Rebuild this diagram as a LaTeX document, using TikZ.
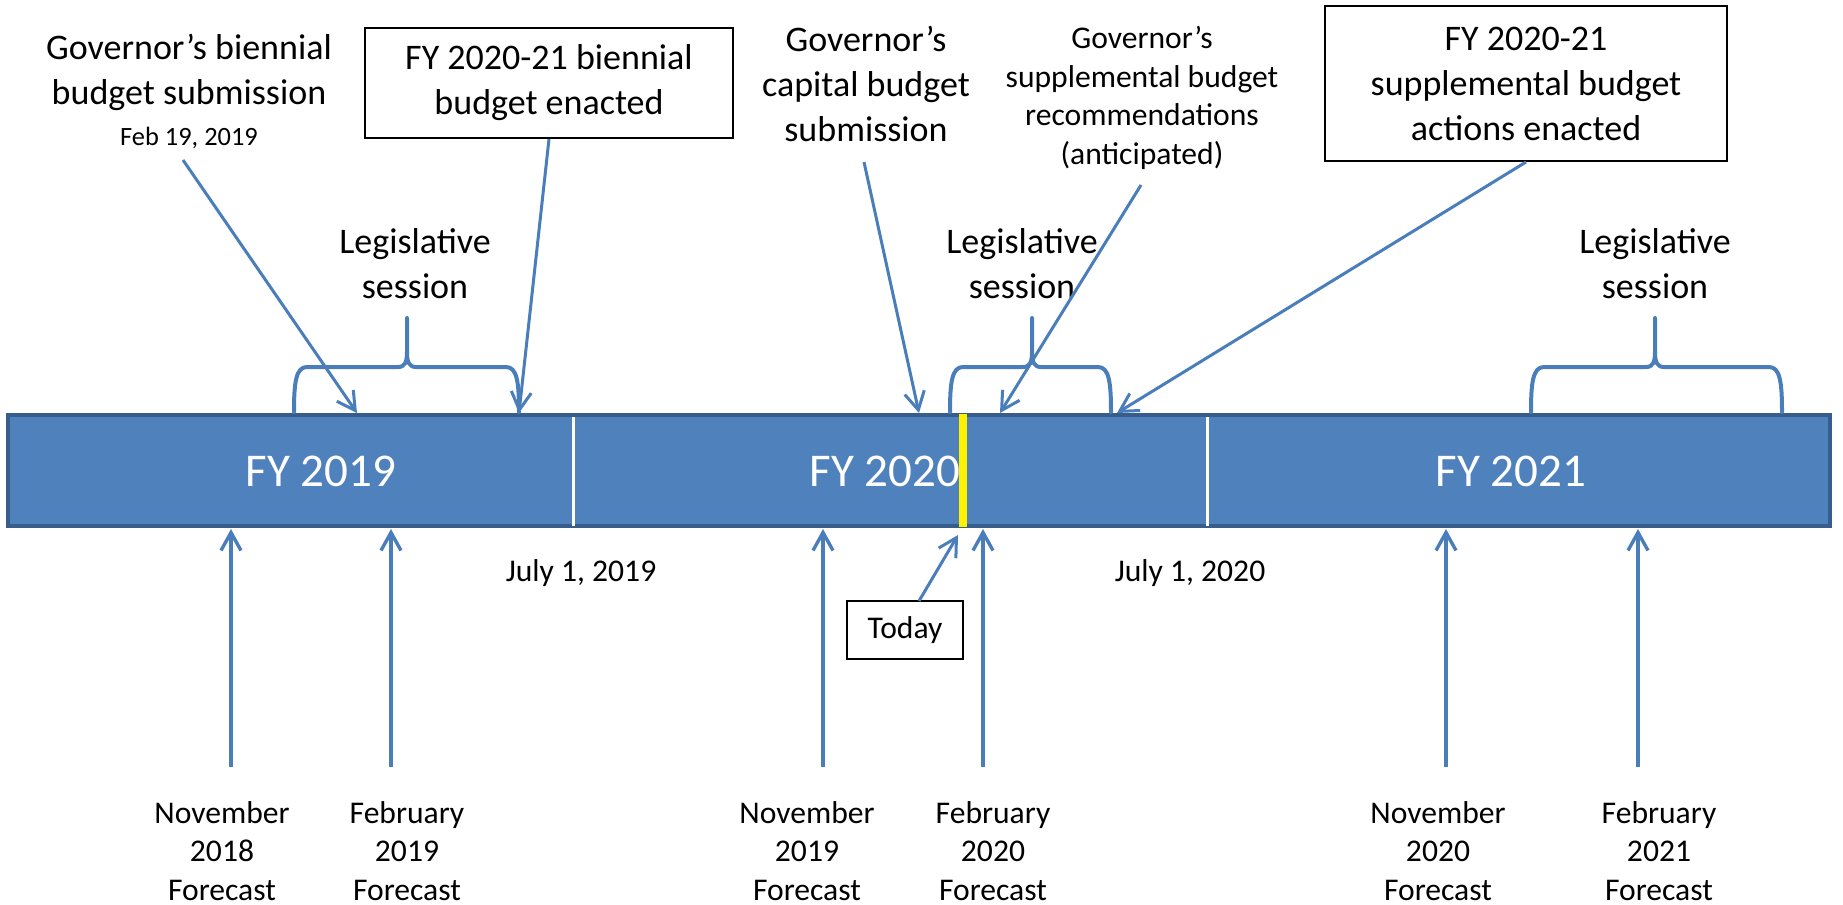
\documentclass[tikz,border=0pt]{standalone}
\usepackage{fontspec}
\setmainfont{Carlito}
\usetikzlibrary{arrows.meta,calc}
\definecolor{barfill}{HTML}{4F81BD}
\definecolor{barline}{HTML}{385D8A}
\definecolor{connc}{HTML}{4A7EBB}
\newcommand\mybrace[3]{%
  \draw[bracestyle] (#1,412) .. controls (#1,382) and (#1+2,367) .. (#1+13,367)
    -- (#2-9,367) .. controls (#2-2,367) and (#2,362) .. (#2,352) -- (#2,318)
    (#2,352) .. controls (#2,362) and (#2+2,367) .. (#2+9,367)
    -- (#3-13,367) .. controls (#3-2,367) and (#3,382) .. (#3,412);
}
\begin{document}
\begin{tikzpicture}[x=0.5pt,y=-0.5pt,
  bigtxt/.style={font=\fontsize{18}{22.5}\selectfont, align=center, inner sep=0pt},
  smalltxt/.style={font=\fontsize{15.8}{19.4}\selectfont, align=center, inner sep=0pt},
  boxed/.style={draw=black, line width=1pt, fill=white, inner sep=0pt},
  fylabel/.style={font=\fontsize{23.5}{28}\selectfont, text=white, inner sep=0pt},
  conn/.style={draw=connc, line width=1.5pt, -{Straight Barb[length=9pt,width=10pt]}},
  bracestyle/.style={draw=connc, line width=2pt, line join=round, line cap=round},
]
\useasboundingbox (0,0) rectangle (1843,905);

% timeline bar
\draw[fill=barfill, draw=barline, line width=2pt] (8,415) rectangle (1830,526);
\draw[white, line width=1.5pt] (573,417) -- (573,526);
\draw[white, line width=1.5pt] (1207,417) -- (1207,526);
\fill[yellow] (959,414) rectangle (967,527);

\node[fylabel] (fy19) at (321,471) {FY 2019};
\node[fylabel] (fy20) at (885,471) {FY 2020};
\node[fylabel] (fy21) at (1511,471) {FY 2021};

% top texts
\node[bigtxt] (gbb) at (189,91) {Governor’s biennial\\budget submission\\[-2pt]{\fontsize{13.2}{16}\selectfont Feb 19, 2019}};
\node[boxed, bigtxt, draw, minimum width=184pt, minimum height=55pt] (bbe) at (549,83) {FY 2020-21 biennial\\budget enacted};
\node[bigtxt] (gcb) at (866,84) {Governor’s\\capital budget\\submission};
\node[smalltxt] (gsb) at (1142,98) {Governor’s\\supplemental budget\\recommendations\\(anticipated)};
\node[boxed, bigtxt, draw, minimum width=201pt, minimum height=77.5pt] (sbe) at (1526,83.5) {FY 2020-21\\supplemental budget\\actions enacted};

\node[bigtxt] (ls1) at (415,264) {Legislative\\session};
\node[bigtxt] (ls2) at (1022,264) {Legislative\\session};
\node[bigtxt] (ls3) at (1655,264) {Legislative\\session};

% braces
\mybrace{294}{407}{519}
\mybrace{950}{1032}{1111}
\mybrace{1531}{1655}{1782}

% dates
\node[smalltxt] (j19) at (581,573) {July 1, 2019};
\node[smalltxt] (j20) at (1190,573) {July 1, 2020};
\node[boxed, smalltxt, minimum width=58pt, minimum height=29pt] (today) at (905,630) {Today};

% forecast labels
\node[smalltxt] (n18) at (222,851) {November\\2018\\Forecast};
\node[smalltxt] (f19) at (407,851) {February\\2019\\Forecast};
\node[smalltxt] (n19) at (807,851) {November\\2019\\Forecast};
\node[smalltxt] (f20) at (993,851) {February\\2020\\Forecast};
\node[smalltxt] (n20) at (1438,851) {November\\2020\\Forecast};
\node[smalltxt] (f21) at (1659,851) {February\\2021\\Forecast};

% connector end points
\coordinate (gbb-out) at (183,160);
\coordinate (gcb-out) at (864,162);
\coordinate (gsb-out) at (1141,185);
\coordinate (today-out) at (919,601);
\coordinate (tA) at (357,413);
\coordinate (tB) at (519,413);
\coordinate (tC) at (919,413);
\coordinate (tD) at (1000,413);
\coordinate (tE) at (1117,413);
\coordinate (tT) at (958,535);

\draw[conn] (gbb-out) -- (tA);
\draw[conn] (bbe.south) -- (tB);
\draw[conn] (gcb-out) -- (tC);
\draw[conn] (gsb-out) -- (tD);
\draw[conn] (sbe.south) -- (tE);
\draw[conn] (today-out) -- (tT);

% forecast arrows
\foreach \nm/\xx in {n18/231, f19/391, n19/823, f20/983, n20/1446, f21/1638}{
  \coordinate (\nm-out) at (\xx,767);
  \coordinate (\nm-in) at (\xx,529);
  \draw[conn, line width=1.7pt] (\nm-out) -- (\nm-in);
}
\end{tikzpicture}
\end{document}
